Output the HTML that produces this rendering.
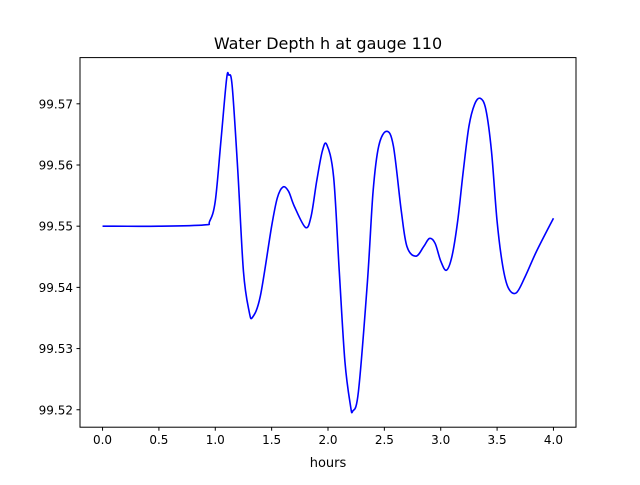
<!DOCTYPE html>
<html><head><meta charset="utf-8"><style>
html,body{margin:0;padding:0;background:#fff;}
svg text{font-family:"DejaVu Sans","Liberation Sans",sans-serif;}
</style></head><body>
<svg id="chart" width="640" height="480" viewBox="0 0 640 480">
<rect width="640" height="480" fill="#fff"/>
<text x="328" y="49" text-anchor="middle" font-size="16" fill="#000">Water Depth h at gauge 110</text>
<g id="plot"></g>
<rect x="80" y="57.6" width="496" height="369.6" fill="none" stroke="#000" stroke-width="1"/>
<text x="328" y="467" text-anchor="middle" font-size="13">hours</text>
</svg>
<script>
const hours = [0,0.5,0.9,0.95,1.0,1.05,1.1,1.12,1.15,1.2,1.25,1.3,1.33,1.4,1.5,1.55,1.6,1.65,1.7,1.8,1.85,1.9,1.95,1.99,2.05,2.1,2.15,2.2,2.22,2.27,2.35,2.4,2.45,2.52,2.58,2.65,2.7,2.78,2.85,2.9,2.95,3.0,3.05,3.1,3.15,3.2,3.25,3.3,3.35,3.4,3.45,3.5,3.55,3.6,3.67,3.75,3.85,4.0];
const depth = [99.5500,99.5500,99.5502,99.5508,99.5541,99.5639,99.5740,99.5747,99.5729,99.5590,99.5426,99.5361,99.5351,99.5386,99.5500,99.5546,99.5564,99.5557,99.5533,99.5498,99.5516,99.5574,99.5623,99.5633,99.5580,99.5426,99.5279,99.5206,99.5198,99.5230,99.5410,99.5557,99.5631,99.5655,99.5631,99.5525,99.5467,99.5451,99.5467,99.5480,99.5472,99.5443,99.5428,99.5451,99.5508,99.5590,99.5663,99.5699,99.5709,99.5691,99.5623,99.5508,99.5435,99.5399,99.5391,99.5418,99.5459,99.5513];
const xTicks = [0,0.5,1.0,1.5,2.0,2.5,3.0,3.5,4.0];
const xTickLabels = ["0.0","0.5","1.0","1.5","2.0","2.5","3.0","3.5","4.0"];
const yTicks = [99.52,99.53,99.54,99.55,99.56,99.57];
const yTickLabels = ["99.52","99.53","99.54","99.55","99.56","99.57"];

const NS="http://www.w3.org/2000/svg";
const X0=80,X1=576,Y0=57.6,Y1=427.2;
const xMin=-0.2,xMax=4.2;
const yMin=99.51715,yMax=99.57755;
function sx(v){return X0+(v-xMin)/(xMax-xMin)*(X1-X0);}
function sy(v){return Y1-(v-yMin)/(yMax-yMin)*(Y1-Y0);}
const g=document.getElementById('plot');
function mk(t,a){const e=document.createElementNS(NS,t);for(const k in a)e.setAttribute(k,a[k]);return e;}

xTicks.forEach((t,i)=>{
  const x=sx(t);
  const l=mk('line',{x1:x,x2:x,y1:Y1,y2:Y1+3.5,stroke:'#000'});
  
  
  g.appendChild(l);
  const tx=mk('text',{x:x,y:Y1+17,'text-anchor':'middle','font-size':'12'});
  tx.textContent=xTickLabels[i];
  
  
  g.appendChild(tx);
});
yTicks.forEach((t,i)=>{
  const y=sy(t);
  const l=mk('line',{x1:X0-3.5,x2:X0,y1:y,y2:y,stroke:'#000'});
  
  
  g.appendChild(l);
  const tx=mk('text',{x:X0-7,y:y+4.5,'text-anchor':'end','font-size':'12'});
  tx.textContent=yTickLabels[i];
  
  
  g.appendChild(tx);
});

const pts=hours.map((h,i)=>[sx(h),sy(depth[i])]);
let d='M'+pts[0][0]+','+pts[0][1];
for(let i=0;i<pts.length-1;i++){
  const p0=pts[Math.max(0,i-1)],p1=pts[i],p2=pts[i+1],p3=pts[Math.min(pts.length-1,i+2)];
  const c1=[p1[0]+(p2[0]-p0[0])/6,p1[1]+(p2[1]-p0[1])/6];
  const c2=[p2[0]-(p3[0]-p1[0])/6,p2[1]-(p3[1]-p1[1])/6];
  d+=' C'+c1[0]+','+c1[1]+' '+c2[0]+','+c2[1]+' '+p2[0]+','+p2[1];
}
const path=mk('path',{d:d,fill:'none',stroke:'#0000ff','stroke-width':'1.6'});


g.appendChild(path);
</script>
</body></html>
